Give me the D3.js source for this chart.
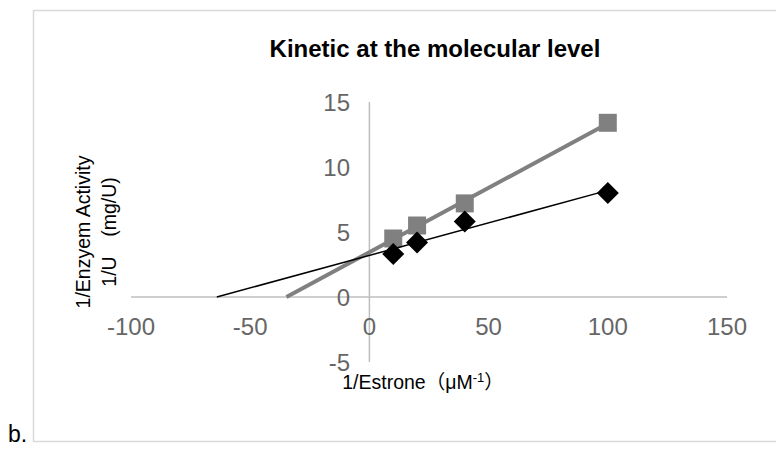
<!DOCTYPE html>
<html>
<head>
<meta charset="utf-8">
<script src="https://cdn.jsdelivr.net/npm/d3@7"></script>
<style>
  body { margin: 0; background: #fff; }
  svg { display: block; }
</style>
</head>
<body>
<script>
//substrate values on the x axis (1/Estrone)
var xValues = [10, 20, 40, 100];
//black diamond series
var diamondValues = [3.3, 4.2, 5.8, 8.0];
//grey square series
var squareValues = [4.5, 5.5, 7.2, 13.4];
//tick labels
var xTicks = [-100, -50, 0, 50, 100, 150];
var yTicks = [-5, 0, 5, 10, 15];

var width = 776,
    height = 449;

var svg = d3.select("body")
    .append("svg")
    .attr("width", width)
    .attr("height", height);

//outer frame
svg.append("rect")
    .attr("x", 33.5)
    .attr("y", 10.5)
    .attr("width", 800)
    .attr("height", 431)
    .attr("fill", "none")
    .attr("stroke", "#d9d9d9")
    .attr("stroke-width", 1.5);

var x = d3.scaleLinear().domain([-100, 150]).range([131, 727]);
var y = d3.scaleLinear().domain([-5, 15]).range([362, 102]);

//axes lines (crossing at 0,0)
svg.append("line")
    .attr("x1", x(-100)).attr("x2", x(150))
    .attr("y1", y(0)).attr("y2", y(0))
    .attr("stroke", "#bfbfbf").attr("stroke-width", 1.5);
svg.append("line")
    .attr("x1", x(0)).attr("x2", x(0))
    .attr("y1", y(15)).attr("y2", y(-5))
    .attr("stroke", "#bfbfbf").attr("stroke-width", 1.5);

//tick labels
var tickFont = "'Liberation Sans', Arial, sans-serif";
svg.selectAll(".xlab")
    .data(xTicks)
    .enter()
    .append("text")
    .attr("class", "xlab")
    .attr("x", function(d){ return x(d); })
    .attr("y", 335)
    .attr("text-anchor", "middle")
    .attr("font-family", tickFont)
    .attr("font-size", 24)
    .attr("fill", "#666")
    .text(function(d){ return d; });

svg.selectAll(".ylab")
    .data(yTicks)
    .enter()
    .append("text")
    .attr("class", "ylab")
    .attr("x", 350)
    .attr("y", function(d){ return y(d) + 9; })
    .attr("text-anchor", "end")
    .attr("font-family", tickFont)
    .attr("font-size", 24)
    .attr("fill", "#666")
    .text(function(d){ return d; });

//least squares trendline, drawn back to where it meets y = 0
function trend(xs, ys){
    var mx = d3.mean(xs), my = d3.mean(ys);
    var sxy = d3.sum(xs, function(v, i){ return (v - mx) * (ys[i] - my); });
    var sxx = d3.sum(xs, function(v){ return (v - mx) * (v - mx); });
    var m = sxy / sxx, b = my - m * mx;
    return [[-b / m, 0], [d3.max(xs), m * d3.max(xs) + b]];
}

var line = d3.line()
    .x(function(d){ return x(d[0]); })
    .y(function(d){ return y(d[1]); });

//markers
svg.selectAll(".sq")
    .data(xValues)
    .enter()
    .append("path")
    .attr("class", "sq")
    .attr("d", d3.symbol().type(d3.symbolSquare).size(324))
    .attr("transform", function(d, i){ return "translate(" + x(d) + "," + y(squareValues[i]) + ")"; })
    .attr("fill", "#808080");

svg.append("path")
    .datum(trend(xValues, squareValues))
    .attr("d", line)
    .attr("fill", "none")
    .attr("stroke", "#808080")
    .attr("stroke-width", 4);

svg.selectAll(".dm")
    .data(xValues)
    .enter()
    .append("path")
    .attr("class", "dm")
    .attr("d", "M0,-11L11,0L0,11L-11,0Z")
    .attr("transform", function(d, i){ return "translate(" + x(d) + "," + y(diamondValues[i]) + ")"; })
    .attr("fill", "#000");

svg.append("path")
    .datum(trend(xValues, diamondValues))
    .attr("d", line)
    .attr("fill", "none")
    .attr("stroke", "#000")
    .attr("stroke-width", 1.5);

//title
svg.append("text")
    .attr("x", 435)
    .attr("y", 57)
    .attr("text-anchor", "middle")
    .attr("font-family", "'Liberation Sans', Arial, sans-serif")
    .attr("font-weight", "bold")
    .attr("font-size", 24)
    .attr("fill", "#000")
    .text("Kinetic at the molecular level");

//x axis title
var xt = svg.append("text")
    .attr("x", 423)
    .attr("y", 389)
    .attr("text-anchor", "middle")
    .attr("font-family", "'Liberation Sans', 'Noto Sans CJK SC', sans-serif")
    .attr("font-size", 19.5)
    .attr("fill", "#000");
xt.append("tspan").text("1/Estrone（μM");
xt.append("tspan").attr("dy", -7).attr("font-size", 13).text("-1");
xt.append("tspan").attr("dy", 7).text("）");

//y axis title, two lines
var yTitle = ["1/Enzyem Activity", "1/U\u3000(mg/U)"];
svg.selectAll(".ytitle")
    .data(yTitle)
    .enter()
    .append("text")
    .attr("class", "ytitle")
    .attr("transform", function(d, i){ return "translate(" + (90 + i * 26) + ",232) rotate(-90)"; })
    .attr("text-anchor", "middle")
    .attr("font-family", "'Liberation Sans', 'Noto Sans CJK SC', sans-serif")
    .attr("font-size", 19.5)
    .attr("fill", "#000")
    .text(function(d){ return d; });

//panel letter
svg.append("text")
    .attr("x", 8)
    .attr("y", 442)
    .attr("font-family", "'Liberation Sans', Arial, sans-serif")
    .attr("font-size", 23)
    .attr("fill", "#000")
    .text("b.");
</script>
</body>
</html>
